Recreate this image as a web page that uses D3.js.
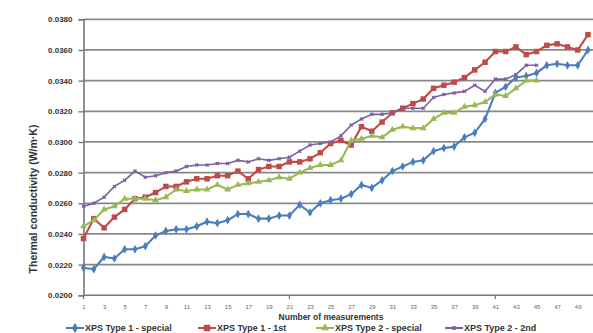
<!DOCTYPE html>
<html>
<head>
<meta charset="utf-8">
<script src="https://cdn.jsdelivr.net/npm/d3@7"></script>
<style>
  body { margin: 0; background: #fff; }
  svg { display: block; font-family: "Liberation Sans", Arial, sans-serif; }
</style>
</head>
<body>
<script>
// chart size
var w = 593, h = 333;

// measurement numbers 1..50
var measurements = d3.range(1, 51);
var xTickLabels = d3.range(1, 50, 2);
var yTicks = [0.0200, 0.0220, 0.0240, 0.0260, 0.0280, 0.0300, 0.0320, 0.0340, 0.0360, 0.0380];

// series values (W/m·K)
var type1Special = [0.0218,0.0217,0.0225,0.0224,0.0230,0.0230,0.0232,0.0239,0.0242,0.0243,
    0.0243,0.0245,0.0248,0.0247,0.0249,0.0253,0.0253,0.0250,0.0250,0.0252,
    0.0252,0.0259,0.0254,0.0260,0.0262,0.0263,0.0266,0.0272,0.0270,0.0275,
    0.0281,0.0284,0.0287,0.0288,0.0294,0.0296,0.0297,0.0303,0.0306,0.0315,
    0.0332,0.0336,0.0342,0.0343,0.0345,0.0350,0.0351,0.0350,0.0350,0.0360];
var type1First = [0.0237,0.0250,0.0244,0.0251,0.0256,0.0263,0.0264,0.0267,0.0271,0.0271,
    0.0274,0.0276,0.0276,0.0278,0.0278,0.0281,0.0276,0.0282,0.0284,0.0284,
    0.0287,0.0287,0.0289,0.0293,0.0299,0.0301,0.0298,0.0310,0.0307,0.0313,
    0.0319,0.0322,0.0325,0.0328,0.0335,0.0337,0.0339,0.0342,0.0347,0.0352,
    0.0359,0.0359,0.0362,0.0357,0.0359,0.0363,0.0364,0.0362,0.0360,0.0370];
var type2Special = [0.0245,0.0249,0.0256,0.0258,0.0263,0.0263,0.0263,0.0262,0.0264,0.0269,
    0.0268,0.0269,0.0269,0.0272,0.0269,0.0272,0.0273,0.0274,0.0275,0.0277,
    0.0276,0.0280,0.0283,0.0285,0.0285,0.0288,0.0301,0.0302,0.0304,0.0303,
    0.0308,0.0310,0.0309,0.0309,0.0315,0.0319,0.0319,0.0323,0.0324,0.0326,
    0.0331,0.0330,0.0335,0.0340,0.0340];
var type2Second = [0.0258,0.0260,0.0264,0.0271,0.0275,0.0281,0.0277,0.0278,0.0280,0.0281,
    0.0284,0.0285,0.0285,0.0286,0.0286,0.0288,0.0287,0.0289,0.0288,0.0289,
    0.0290,0.0294,0.0298,0.0299,0.0300,0.0304,0.0311,0.0315,0.0318,0.0318,
    0.0319,0.0322,0.0322,0.0322,0.0329,0.0331,0.0332,0.0333,0.0337,0.0333,
    0.0341,0.0341,0.0344,0.0350,0.0350];

var seriesNames = ["XPS Type 1 - special", "XPS Type 1 - 1st", "XPS Type 2 - special", "XPS Type 2 - 2nd"];

var series = [
    { name: seriesNames[0], values: type1Special, color: "#4a7ebb", marker: d3.symbolDiamond, size: 22 },
    { name: seriesNames[1], values: type1First, color: "#be4b48", marker: d3.symbolSquare, size: 30 },
    { name: seriesNames[2], values: type2Special, color: "#98b954", marker: d3.symbolTriangle, size: 20 },
    { name: seriesNames[3], values: type2Second, color: "#7d60a0", marker: d3.symbolCross, size: 10 }
];

var svg = d3.select("body")
    .append("svg")
    .attr("width", w)
    .attr("height", h);

// scales
var x = d3.scalePoint()
    .domain(measurements)
    .range([83.5, 588]);

var y = d3.scaleLinear()
    .domain([0.0200, 0.0380])
    .range([295.3, 19.3]);

// grid lines
svg.append("g")
    .attr("class", "grid")
    .selectAll("line")
    .data(yTicks.slice(1))
    .enter()
    .append("line")
    .attr("x1", 83.5)
    .attr("x2", w)
    .attr("y1", function(d){ return y(d); })
    .attr("y2", function(d){ return y(d); })
    .style("stroke", "#888")
    .style("stroke-width", 1.7);

// y axis
var yAxis = svg.append("g")
    .attr("transform", "translate(83.5,0)")
    .call(d3.axisLeft(y).tickValues(yTicks).tickSize(5).tickPadding(6).tickFormat(d3.format(".4f")));
yAxis.select(".domain").style("stroke", "#777").style("stroke-width", 1.6);
yAxis.selectAll(".tick line").style("stroke", "#777").style("stroke-width", 1.4);
yAxis.selectAll("text")
    .style("font-size", "8px")
    .style("font-weight", "bold")
    .style("fill", "#333");

// x axis
var xAxis = svg.append("g")
    .attr("transform", "translate(0,295.3)")
    .call(d3.axisBottom(x).tickValues(xTickLabels).tickSize(0).tickPadding(9));
xAxis.select(".domain").remove();
xAxis.selectAll("text")
    .style("font-size", "6px")
    .style("fill", "#666");

svg.append("line")
    .attr("x1", 83.5).attr("x2", w)
    .attr("y1", 295.3).attr("y2", 295.3)
    .style("stroke", "#777")
    .style("stroke-width", 1.6);

// small tick marks at 1, 21, 41
svg.selectAll(".xtick")
    .data([1, 21, 41])
    .enter()
    .append("line")
    .attr("class", "xtick")
    .attr("x1", function(d){ return x(d); })
    .attr("x2", function(d){ return x(d); })
    .attr("y1", 295.3)
    .attr("y2", 299)
    .style("stroke", "#777")
    .style("stroke-width", 1.2);

// lines
var line = d3.line()
    .x(function(d, i){ return x(measurements[i]); })
    .y(function(d){ return y(d); });

var groups = svg.selectAll(".series")
    .data(series)
    .enter()
    .append("g")
    .attr("class", "series");

groups.append("path")
    .attr("d", function(d){ return line(d.values); })
    .style("fill", "none")
    .style("stroke", function(d){ return d.color; })
    .style("stroke-width", function(d, i){ return i == 3 ? 1.6 : 2.1; });

groups.each(function(s, si){
    d3.select(this).selectAll(".pt")
        .data(s.values)
        .enter()
        .append("path")
        .attr("class", "pt")
        .attr("transform", function(d, i){
            var rot = si == 3 ? 45 : 0;
            return "translate(" + x(measurements[i]) + "," + y(d) + ") rotate(" + rot + ")";
        })
        .attr("d", d3.symbol().type(s.marker).size(s.size))
        .style("fill", s.color);
});

// axis titles
svg.append("text")
    .attr("transform", "translate(37,199) rotate(-90)")
    .attr("text-anchor", "middle")
    .style("font-size", "10.5px")
    .style("font-weight", "bold")
    .style("fill", "#333")
    .text("Thermal conductivity  (W/m·K)");

svg.append("text")
    .attr("x", 331)
    .attr("y", 320)
    .attr("text-anchor", "middle")
    .style("font-size", "8.5px")
    .style("font-weight", "bold")
    .style("fill", "#333")
    .text("Number of measurements");

// legend
var legendX = [66, 198, 316, 445];
var legend = svg.selectAll(".legend")
    .data(series)
    .enter()
    .append("g")
    .attr("class", "legend")
    .attr("transform", function(d, i){ return "translate(" + legendX[i] + ",328)"; });

legend.append("line")
    .attr("x1", 0).attr("x2", 18)
    .style("stroke", function(d){ return d.color; })
    .style("stroke-width", 2);

legend.append("path")
    .attr("transform", function(d, i){ return "translate(9,0) rotate(" + (i == 3 ? 45 : 0) + ")"; })
    .attr("d", function(d){ return d3.symbol().type(d.marker).size(d.size * 1.4)(); })
    .style("fill", function(d){ return d.color; });

legend.append("text")
    .attr("x", 19)
    .attr("y", 3)
    .style("font-size", "9px")
    .style("font-weight", "bold")
    .style("fill", "#333")
    .text(function(d){ return d.name; });
</script>
</body>
</html>
